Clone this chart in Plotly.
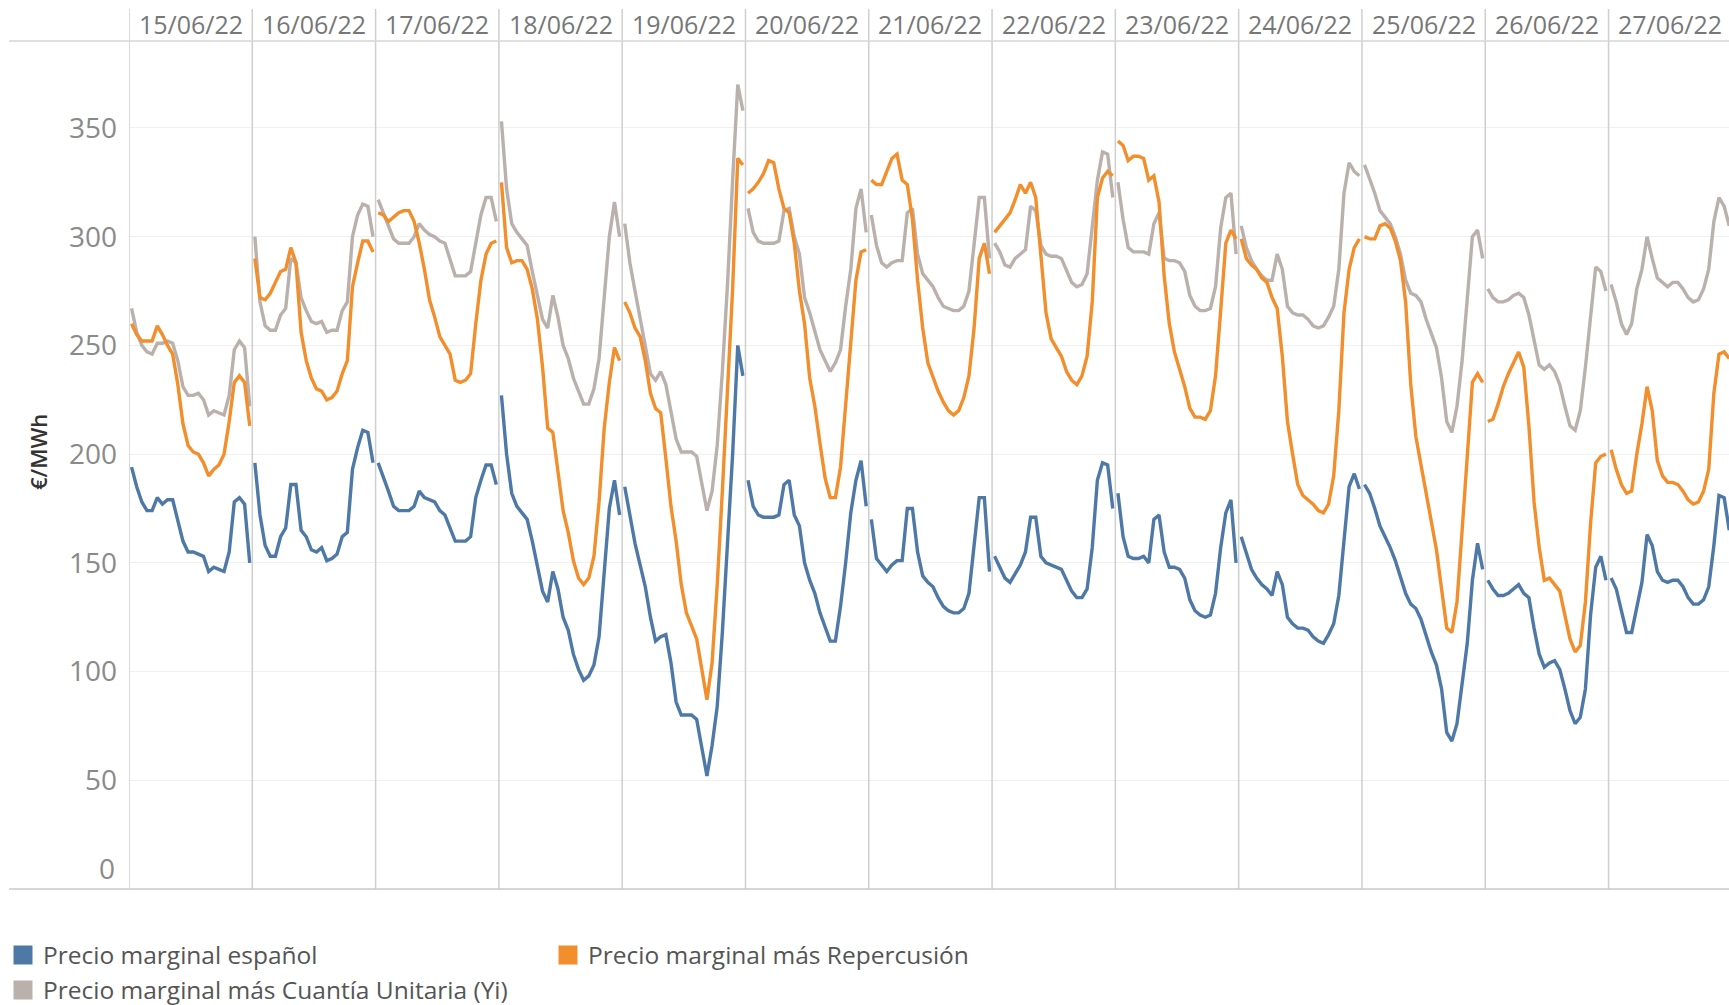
import plotly.graph_objects as go

# ---- data -------------------------------------------------------------
days = ["15/06/22", "16/06/22", "17/06/22", "18/06/22", "19/06/22", "20/06/22", "21/06/22",
        "22/06/22", "23/06/22", "24/06/22", "25/06/22", "26/06/22", "27/06/22"]
hours = list(range(24))
yticks = [0, 50, 100, 150, 200, 250, 300, 350]

# Precio marginal español (hourly, 24 values per day)
esp = [
    194, 185, 178, 174, 174, 180, 177, 179, 179, 170, 160, 155, 155, 154, 153, 146, 148, 147, 146, 155, 178, 180, 177, 150,
    196, 172, 158, 153, 153, 162, 166, 186, 186, 165, 162, 156, 155, 157, 151, 152, 154, 162, 164, 193, 203, 211, 210, 196,
    196, 190, 183, 176, 174, 174, 174, 176, 183, 180, 179, 178, 174, 172, 166, 160, 160, 160, 162, 180, 188, 195, 195, 186,
    227, 200, 182, 176, 173, 170, 160, 148, 137, 132, 146, 138, 125, 119, 108, 101, 96, 98, 103, 116, 145, 175, 188, 172,
    185, 172, 159, 149, 139, 125, 114, 116, 117, 104, 86, 80, 80, 80, 78, 65, 52, 66, 84, 118, 158, 200, 250, 236,
    188, 176, 172, 171, 171, 171, 172, 186, 188, 172, 167, 150, 142, 136, 127, 121, 114, 114, 130, 150, 173, 188, 197, 176,
    170, 152, 149, 146, 149, 151, 151, 175, 175, 155, 144, 141, 139, 134, 130, 128, 127, 127, 129, 136, 158, 180, 180, 146,
    153, 148, 143, 141, 145, 149, 155, 171, 171, 153, 150, 149, 148, 147, 142, 137, 134, 134, 138, 157, 188, 196, 195, 175,
    182, 162, 153, 152, 152, 153, 150, 170, 172, 155, 148, 148, 147, 143, 133, 128, 126, 125, 126, 136, 157, 173, 179, 150,
    162, 155, 147, 143, 140, 138, 135, 146, 140, 125, 122, 120, 120, 119, 116, 114, 113, 117, 122, 135, 162, 185, 191, 184,
    186, 182, 175, 167, 162, 157, 151, 144, 136, 131, 129, 124, 116, 109, 103, 92, 72, 68, 76, 95, 113, 142, 159, 147,
    142, 138, 135, 135, 136, 138, 140, 136, 134, 120, 108, 102, 104, 105, 101, 92, 82, 76, 79, 92, 126, 148, 153, 142,
    143, 138, 128, 118, 118, 130, 141, 163, 158, 146, 142, 141, 142, 142, 139, 134, 131, 131, 133, 139, 158, 181, 180, 165,
]

# Precio marginal más Repercusión
rep = [
    260, 255, 252, 252, 252, 259, 255, 250, 246, 232, 214, 204, 201, 200, 196, 190, 193, 195, 200, 215, 233, 236, 233, 213,
    290, 272, 271, 274, 279, 284, 285, 295, 288, 256, 243, 235, 230, 229, 225, 226, 229, 237, 243, 277, 288, 298, 298, 293,
    311, 310, 307, 309, 311, 312, 312, 307, 297, 285, 271, 263, 254, 250, 246, 234, 233, 234, 237, 260, 280, 292, 297, 298,
    325, 295, 288, 289, 289, 285, 276, 262, 240, 212, 210, 193, 174, 164, 151, 143, 140, 143, 153, 178, 212, 233, 249, 243,
    270, 265, 258, 254, 243, 228, 221, 219, 198, 176, 160, 140, 127, 121, 115, 101, 87, 104, 140, 183, 226, 276, 336, 333,
    320, 322, 325, 329, 335, 334, 322, 313, 311, 297, 275, 260, 235, 222, 205, 189, 180, 180, 194, 222, 254, 280, 293, 294,
    326, 324, 324, 330, 336, 338, 326, 324, 308, 280, 258, 242, 235, 229, 224, 220, 218, 220, 226, 236, 258, 290, 297, 283,
    302, 305, 308, 311, 317, 324, 320, 325, 318, 290, 265, 253, 249, 245, 238, 234, 232, 236, 245, 270, 318, 327, 330, 328,
    344, 342, 335, 337, 337, 336, 326, 328, 316, 282, 260, 247, 239, 231, 221, 217, 217, 216, 220, 236, 266, 297, 303, 299,
    299, 290, 287, 285, 281, 279, 272, 267, 245, 215, 200, 186, 181, 179, 177, 174, 173, 177, 190, 220, 265, 285, 295, 299,
    300, 299, 299, 305, 306, 304, 298, 289, 270, 232, 208, 195, 181, 167, 156, 138, 120, 118, 132, 165, 200, 233, 237, 233,
    215, 216, 223, 231, 237, 242, 247, 240, 213, 178, 157, 142, 143, 140, 137, 126, 115, 109, 112, 132, 168, 196, 199, 200,
    202, 193, 186, 182, 183, 200, 214, 231, 220, 197, 190, 187, 187, 186, 183, 179, 177, 178, 183, 193, 228, 246, 247, 244,
]

# Precio marginal más Cuantía Unitaria (Yi)
yi = [
    267, 256, 250, 247, 246, 251, 251, 252, 251, 243, 231, 227, 227, 228, 225, 218, 220, 219, 218, 227, 248, 252, 249, 222,
    300, 270, 259, 257, 257, 264, 267, 290, 288, 272, 266, 261, 260, 261, 256, 257, 257, 266, 270, 300, 310, 315, 314, 300,
    317, 311, 304, 299, 297, 297, 297, 300, 306, 303, 301, 300, 298, 297, 290, 282, 282, 282, 284, 297, 310, 318, 318, 307,
    353, 322, 306, 302, 299, 296, 284, 272, 262, 258, 273, 263, 250, 244, 235, 229, 223, 223, 230, 244, 272, 300, 316, 300,
    306, 288, 275, 262, 250, 237, 234, 238, 232, 220, 207, 201, 201, 201, 199, 186, 174, 183, 204, 238, 278, 326, 370, 358,
    313, 302, 298, 297, 297, 297, 298, 312, 313, 300, 292, 272, 265, 256, 248, 243, 238, 242, 248, 268, 285, 313, 322, 302,
    310, 296, 288, 286, 288, 289, 289, 311, 313, 292, 283, 280, 277, 272, 268, 267, 266, 266, 268, 275, 298, 318, 318, 290,
    297, 293, 287, 286, 290, 292, 294, 314, 312, 296, 292, 291, 291, 290, 284, 279, 277, 278, 283, 305, 326, 339, 338, 318,
    325, 308, 295, 293, 293, 293, 292, 306, 311, 290, 289, 289, 288, 284, 273, 268, 266, 266, 267, 277, 304, 318, 320, 292,
    305, 295, 289, 285, 282, 280, 280, 292, 285, 268, 265, 264, 264, 262, 259, 258, 259, 263, 268, 285, 320, 334, 330, 328,
    333, 327, 320, 312, 309, 306, 300, 292, 280, 274, 273, 270, 262, 255, 249, 235, 215, 210, 222, 243, 272, 300, 303, 290,
    276, 272, 270, 270, 271, 273, 274, 272, 264, 252, 241, 239, 241, 238, 232, 222, 213, 211, 220, 240, 264, 286, 284, 275,
    278, 270, 260, 255, 260, 276, 285, 300, 290, 281, 279, 277, 279, 279, 276, 272, 270, 271, 276, 285, 307, 318, 314, 305,
]

series = [
    ("Precio marginal español", esp, "#4e79a7", "legend"),
    ("Precio marginal más Repercusión", rep, "#f28e2b", "legend"),
    ("Precio marginal más Cuantía Unitaria (Yi)", yi, "#bab0ac", "legend2"),
]

# ---- geometry ----------------------------------------------------------
W, H = 1729, 1005
ML, MR, MT, MB = 129, 0, 41, 116
PW, PH = W - ML - MR, H - MT - MB
n_days = len(days)
x_end = 12 * 24 + 0.977 * 24


def split_by_day(values):
    xs, ys = [], []
    for d in range(n_days):
        for h in hours:
            xs.append(d * 24 + h + 0.5)
            ys.append(values[d * 24 + h])
        xs.append(None)
        ys.append(None)
    return xs, ys


fig = go.Figure()
# draw gray first, then orange, then blue on top
for name, vals, color, lg in [series[2], series[1], series[0]]:
    xs, ys = split_by_day(vals)
    fig.add_trace(go.Scatter(x=xs, y=ys, mode="lines", name=name, showlegend=False,
                             line=dict(color=color, width=3.4), connectgaps=False,
                             hoverinfo="skip"))

for name, vals, color, lg in series:
    fig.add_trace(go.Scatter(x=[None], y=[None], mode="markers", name=name, legend=lg,
                             marker=dict(symbol="square", size=16, color=color,
                                         line=dict(width=3, color=color))))

shapes = []
sep_top = 1 + (MT - 9) / PH
for d in range(n_days):
    shapes.append(dict(type="line", xref="x", yref="paper", x0=d * 24, x1=d * 24,
                       y0=0, y1=sep_top, line=dict(color="#cfcfcf", width=1.5)))
left_ext = (9 - ML) / PW
shapes.append(dict(type="line", xref="paper", yref="paper", x0=left_ext, x1=1, y0=1, y1=1,
                   line=dict(color="#d6d6d6", width=1.5)))
shapes.append(dict(type="line", xref="paper", yref="paper", x0=left_ext, x1=1, y0=0, y1=0,
                   line=dict(color="#c8c8c8", width=1.5)))

annotations = []
for d, lab in enumerate(days):
    annotations.append(dict(x=d * 24 + 12, y=1, xref="x", yref="paper", yshift=17,
                            text=lab, showarrow=False, xanchor="center", yanchor="middle",
                            font=dict(size=25, color="#777777", family="Open Sans")))
annotations.append(dict(x=0, y=0, xref="paper", yref="y", xshift=-12, yshift=21,
                        text="0", showarrow=False, xanchor="right", yanchor="middle",
                        font=dict(size=28, color="#8a8a8a", family="Open Sans")))
annotations.append(dict(x=(38 - ML) / PW, y=(H - MB - 452) / PH, xref="paper", yref="paper",
                        text="€/MWh", textangle=-90, showarrow=False,
                        xanchor="center", yanchor="middle",
                        font=dict(size=22, color="#333333", family="Open Sans", weight=600)))

fig.update_layout(
    width=W, height=H,
    margin=dict(l=ML, r=MR, t=MT, b=MB, pad=0, autoexpand=False),
    paper_bgcolor="white", plot_bgcolor="white",
    font=dict(family="Open Sans", color="#555555"),
    xaxis=dict(range=[0, x_end], showgrid=False, showticklabels=False, zeroline=False,
               showline=False, ticks=""),
    yaxis=dict(range=[0, 390], tickvals=yticks,
               ticktext=["" if v == 0 else str(v) for v in yticks],
               showgrid=True, gridcolor="#f0f0f0", gridwidth=1, zeroline=False,
               showline=False, ticks="", ticklabelstandoff=11,
               tickfont=dict(size=28, color="#8a8a8a", family="Open Sans")),
    shapes=shapes,
    annotations=annotations,
    legend=dict(orientation="h", x=(3 - ML) / PW, xanchor="left",
                y=-66 / PH, yanchor="middle", entrywidth=500, entrywidthmode="pixels",
                font=dict(size=24.5, color="#555555", family="Open Sans"),
                bgcolor="rgba(0,0,0,0)", itemclick=False),
    legend2=dict(orientation="h", x=(3 - ML) / PW, xanchor="left",
                 y=-101 / PH, yanchor="middle",
                 font=dict(size=24.5, color="#555555", family="Open Sans"),
                 bgcolor="rgba(0,0,0,0)", itemclick=False),
)

fig.write_html("out.html", config={"displayModeBar": False},
               post_script="document.body.style.margin='0';")
